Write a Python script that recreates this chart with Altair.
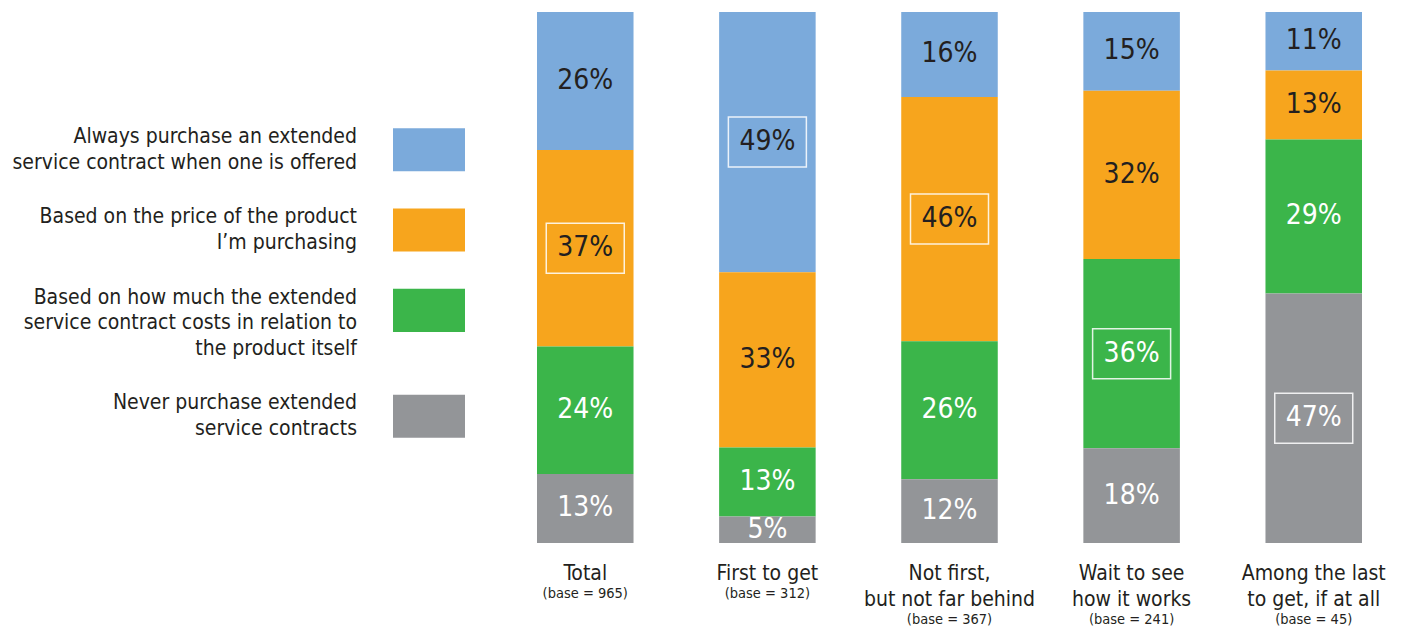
import altair as alt
import pandas as pd

# ---------------- data ----------------
categories = [
    "Total",
    "First to get",
    "Not first, but not far behind",
    "Wait to see how it works",
    "Among the last to get, if at all",
]
category_lines = [
    ["Total"],
    ["First to get"],
    ["Not first,", "but not far behind"],
    ["Wait to see", "how it works"],
    ["Among the last", "to get, if at all"],
]
bases = [965, 312, 367, 241, 45]

series = [
    "Always purchase an extended service contract when one is offered",
    "Based on the price of the product I’m purchasing",
    "Based on how much the extended service contract costs in relation to the product itself",
    "Never purchase extended service contracts",
]
series_lines = [
    ["Always purchase an extended", "service contract when one is offered"],
    ["Based on the price of the product", "I’m purchasing"],
    ["Based on how much the extended", "service contract costs in relation to", "the product itself"],
    ["Never purchase extended", "service contracts"],
]
always = [26, 49, 16, 15, 11]
price = [37, 33, 46, 32, 13]
relation = [24, 13, 26, 36, 29]
never = [13, 5, 12, 18, 47]

colors = ["#7BAADB", "#F7A51D", "#3BB54A", "#939598"]
label_colors = ["#231F20", "#231F20", "#FFFFFF", "#FFFFFF"]
TEXT = "#231F20"
LEG_FONT = "DejaVu Sans Condensed"
VAL_FONT = "Liberation Sans Narrow, DejaVu Sans Condensed"

# ---------------- tables ----------------
rows = []
for s_i, (s, vals) in enumerate(zip(series, [always, price, relation, never])):
    for c, v in zip(categories, vals):
        rows.append({"cat": c, "series": s, "value": v, "rank": len(series) - 1 - s_i})
bar_df = pd.DataFrame(rows)

# legend: one row per text line, in line units
leg_rows, sw_rows = [], []
offset = 0.0
for s, lines in zip(series, series_lines):
    for j, t in enumerate(lines):
        leg_rows.append({"series": s, "text": t, "pos": offset + j})
    sw_rows.append({"series": s, "top": offset + 0.5 - 0.845, "bot": offset + 0.5 + 0.845})
    offset += len(lines) + 1.15
leg_df = pd.DataFrame(leg_rows)
sw_df = pd.DataFrame(sw_rows)

# category labels
name_rows, base_rows = [], []
for c, lines, b in zip(categories, category_lines, bases):
    for j, t in enumerate(lines):
        name_rows.append({"cat": c, "text": t, "pos": j})
    base_rows.append({"cat": c, "text": f"(base = {b})", "pos": len(lines) - 1 + 0.77})
name_df = pd.DataFrame(name_rows)
base_df = pd.DataFrame(base_rows)

# ---------------- chart ----------------
W, H = 1392, 531
x_scale = alt.Scale(domain=categories, range=[529, 1354], paddingInner=0.47, paddingOuter=0)
y_scale = alt.Scale(domain=[0, 1], nice=False, zero=False)
X = alt.X("cat:N", scale=x_scale, axis=None)

stacked = alt.Chart(bar_df).transform_stack(
    stack="value",
    groupby=["cat"],
    as_=["y0", "y1"],
    offset="normalize",
    sort=[alt.SortField("rank", order="ascending")],
).transform_calculate(mid="(datum.y0 + datum.y1) / 2", label="datum.value + '%'")

bars = stacked.mark_bar().encode(
    x=X,
    y=alt.Y("y0:Q", scale=y_scale, axis=None),
    y2="y1:Q",
    color=alt.Color("series:N", scale=alt.Scale(domain=series, range=colors), legend=None),
)

values = stacked.mark_text(font=VAL_FONT, fontSize=28, baseline="middle", align="center").encode(
    x=X,
    y=alt.Y("mid:Q", scale=y_scale, axis=None),
    text="label:N",
    color=alt.Color("series:N", scale=alt.Scale(domain=series, range=label_colors), legend=None),
)

highlight = stacked.transform_joinaggregate(
    maxv="max(value)", groupby=["cat"]
).transform_filter("datum.value == datum.maxv").mark_rect(
    width=78, height=50, fillOpacity=0, stroke="#FFFFFF", strokeOpacity=0.85, strokeWidth=1.5
).encode(
    x=X,
    y=alt.Y("mid:Q", scale=y_scale, axis=None),
)

leg_y = alt.Scale(domain=[0, 1], range=[125, 150.5], nice=False, zero=False)
leg_text = alt.Chart(leg_df).mark_text(
    align="right", baseline="middle", font=LEG_FONT, fontSize=21, color=TEXT
).encode(
    x=alt.value(349),
    y=alt.Y("pos:Q", scale=leg_y, axis=None),
    text="text:N",
)
leg_sw = alt.Chart(sw_df).mark_rect().encode(
    x=alt.value(385),
    x2=alt.value(457),
    y=alt.Y("top:Q", scale=leg_y, axis=None),
    y2="bot:Q",
    color=alt.Color("series:N", scale=alt.Scale(domain=series, range=colors), legend=None),
)

cat_y = alt.Scale(domain=[0, 1], range=[562, 588], nice=False, zero=False)
cat_names = alt.Chart(name_df).mark_text(
    align="center", baseline="middle", font=LEG_FONT, fontSize=21, color=TEXT
).encode(x=X, y=alt.Y("pos:Q", scale=cat_y, axis=None), text="text:N")
cat_bases = alt.Chart(base_df).mark_text(
    align="center", baseline="middle", font=LEG_FONT, fontSize=14.5, color=TEXT
).encode(x=X, y=alt.Y("pos:Q", scale=cat_y, axis=None), text="text:N")

chart = alt.layer(
    bars, values, highlight, leg_sw, leg_text, cat_names, cat_bases
).resolve_scale(
    y="independent", color="independent"
).properties(
    width=W,
    height=H,
    autosize=alt.AutoSizeParams(type="none"),
    padding={"left": 0, "top": 4, "right": 0, "bottom": 86},
    background="white",
).configure_view(stroke=None)

chart.save("out.html", embed_options={"renderer": "svg", "actions": False})
